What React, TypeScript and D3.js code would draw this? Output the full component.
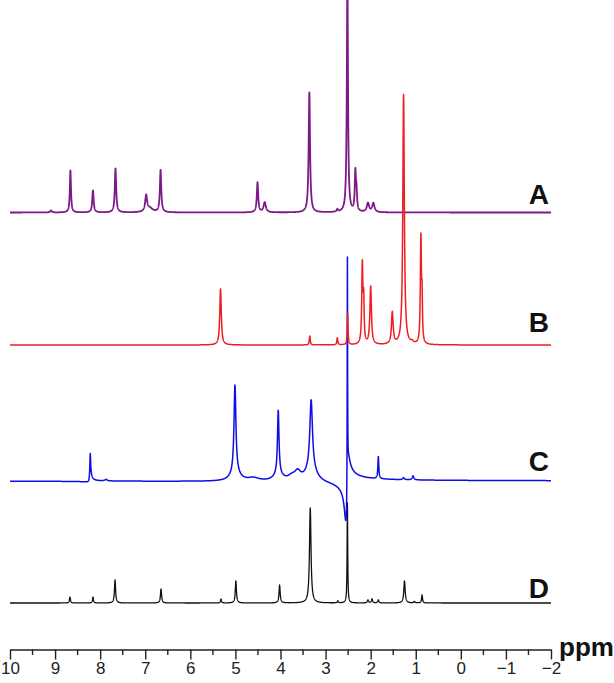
import React, { useEffect, useRef } from "react";
import * as d3 from "d3";

// peaks: [shift ppm, height, half width ppm]
const peaksA: [number, number, number][] = [
  [9.09, 2, 0.02],
  [8.66, 42, 0.015],
  [8.16, 22, 0.018],
  [7.66, 44, 0.018],
  [6.98, 16, 0.025],
  [6.9, 4, 0.08],
  [6.66, 42, 0.018],
  [4.51, 30, 0.018],
  [4.35, 10, 0.03],
  [3.36, 120, 0.018],
  [2.74, 2.5, 0.015],
  [2.516, 240, 0.015],
  [2.34, 38, 0.015],
  [2.315, 18, 0.015],
  [2.06, 9, 0.03],
  [1.94, 9, 0.03],
];

const peaksB: [number, number, number][] = [
  [5.33, 56, 0.02],
  [3.35, 9, 0.012],
  [2.74, 7, 0.012],
  [2.51, 31, 0.01],
  [2.185, 79, 0.015],
  [2.155, 40, 0.012],
  [2.0, 58, 0.02],
  [1.52, 32, 0.022],
  [1.27, 250, 0.02],
  [1.08, 2, 0.03],
  [0.886, 106, 0.014],
  [0.86, 40, 0.01],
];

const peaksC: [number, number, number][] = [
  [8.22, 30, 0.012],
  [7.87, 1.5, 0.03],
  [5.01, 88, 0.025],
  [5.0, 8, 0.12],
  [4.6, 3, 0.15],
  [4.05, 64, 0.02],
  [4.05, 6, 0.12],
  [3.75, 4, 0.1],
  [3.62, 8, 0.08],
  [3.32, 70, 0.035],
  [3.32, 12, 0.15],
  [2.516, 235, 0.005],
  [2.55, -20, 0.04],
  [1.83, 22, 0.012],
  [1.27, 2, 0.02],
  [1.06, 4, 0.02],
];

// dispersive (phase error) parts of spectrum C: [shift, amplitude, width]
const dispC: [number, number, number][] = [
  [8.21, -6, 0.02],
  [2.516, -50, 0.03],
];

const peaksD: [number, number, number][] = [
  [8.67, 6, 0.012],
  [8.16, 6, 0.012],
  [7.67, 23, 0.015],
  [6.65, 14, 0.015],
  [5.32, 4, 0.012],
  [4.99, 22, 0.015],
  [4.02, 18, 0.015],
  [3.34, 95, 0.02],
  [2.73, 2, 0.012],
  [2.516, 100, 0.008],
  [2.06, 3, 0.015],
  [1.97, 4, 0.015],
  [1.83, 3, 0.015],
  [1.25, 22, 0.018],
  [1.03, 1.5, 0.015],
  [0.86, 8, 0.012],
];

const labels = ["A", "B", "C", "D"];
const colors = ["#7e1a88", "#ee1c24", "#0d0de8", "#111111"];
const majorTicks = [10, 9, 8, 7, 6, 5, 4, 3, 2, 1, 0, -1, -2];
const minorTicks = [9.5, 8.5, 7.5, 6.5, 5.5, 4.5, 3.5, 2.5, 1.5, 0.5, -0.5, -1.5];

const W = 614, H = 683;

function spectrum(peaks: [number, number, number][], disp: [number, number, number][], ppm: number) {
  var v = 0;
  for (var i = 0; i < peaks.length; i++) {
    var d = ppm - peaks[i][0], w = peaks[i][2];
    v += peaks[i][1] * w * w / (d * d + w * w);
  }
  for (var j = 0; j < disp.length; j++) {
    var dd = ppm - disp[j][0], ww = disp[j][2];
    v += disp[j][1] * ww * dd / (dd * dd + ww * ww);
  }
  return v;
}

export default function App() {
  const ref = useRef<SVGSVGElement>(null);

  useEffect(() => {
    const svg = d3.select(ref.current);
    svg.selectAll("*").remove();

    const x = d3.scaleLinear().domain([10, -2]).range([10, 551]);
    const y = d3.scaleLinear().domain([0, 100]).range([0, -100]);
    const baselines = [212.5, 345, 481, 603];
    const widths = [1.8, 1.5, 1.5, 1.3];
    const sets = [
      { peaks: peaksA, disp: [] as [number, number, number][] },
      { peaks: peaksB, disp: [] as [number, number, number][] },
      { peaks: peaksC, disp: dispC },
      { peaks: peaksD, disp: [] as [number, number, number][] },
    ];
    // sampling grid, 0.002 ppm apart
    const grid = d3.range(0, 6001).map(k => 10 - k * 0.002);

    const line = d3.line<[number, number]>()
      .x(d => x(d[0]))
      .y(d => y(d[1]));

    // red drawn last so it sits on top where traces cross
    [3, 2, 0, 1].forEach(i => {
      const pts: [number, number][] = grid.map(p => [p, spectrum(sets[i].peaks, sets[i].disp, p)]);
      svg.append("path")
        .attr("transform", "translate(0," + baselines[i] + ")")
        .attr("d", line(pts))
        .attr("fill", "none")
        .attr("stroke", colors[i])
        .attr("stroke-width", widths[i])
        .attr("stroke-linejoin", "round");
    });

    const labelY = [204, 332, 471, 598];
    labels.forEach((t, i) => {
      svg.append("text")
        .attr("x", 549)
        .attr("y", labelY[i])
        .attr("text-anchor", "end")
        .style("font-family", "Arial, 'Liberation Sans', sans-serif")
        .style("font-weight", "bold")
        .style("font-size", "28px")
        .attr("fill", "#111")
        .text(t);
    });

    const axisY = 649.5;
    const axis = d3.axisBottom(x)
      .tickValues(majorTicks)
      .tickSize(10)
      .tickSizeOuter(0)
      .tickPadding(2.5)
      .tickFormat(d => d3.format("d")(d as number));

    const g = svg.append("g")
      .attr("transform", "translate(0," + axisY + ")")
      .call(axis);
    g.select(".domain").attr("stroke", "#222").attr("stroke-width", 1.4);
    g.selectAll(".tick line").attr("stroke", "#222").attr("stroke-width", 1.4);
    g.selectAll(".tick text")
      .attr("fill", "#222")
      .style("font-family", "Arial, 'Liberation Sans', sans-serif")
      .style("font-size", "17px");

    g.selectAll(".minor")
      .data(minorTicks)
      .enter()
      .append("line")
      .attr("class", "minor")
      .attr("x1", d => x(d))
      .attr("x2", d => x(d))
      .attr("y1", 0)
      .attr("y2", 5.5)
      .attr("stroke", "#222")
      .attr("stroke-width", 1.4);

    svg.append("text")
      .attr("x", 559)
      .attr("y", 656)
      .style("font-family", "Arial, 'Liberation Sans', sans-serif")
      .style("font-weight", "bold")
      .style("font-size", "26px")
      .attr("fill", "#111")
      .text("ppm");
  }, []);

  return (
    <svg
      ref={ref}
      width={W}
      height={H}
      style={{ position: "absolute", left: 0, top: 0, background: "white" }}
    />
  );
}
